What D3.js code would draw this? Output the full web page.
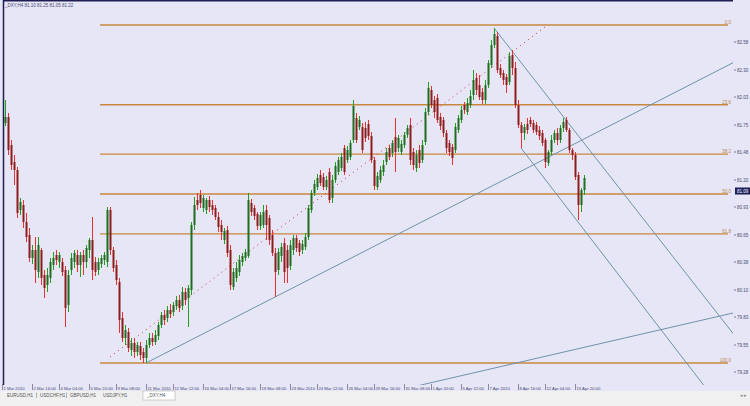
<!DOCTYPE html>
<html><head><meta charset="utf-8">
<script src="https://cdn.jsdelivr.net/npm/d3@7"></script>
<style>body{margin:0;background:#fff;overflow:hidden}svg{display:block}</style>
</head><body>
<svg id="chart" width="750" height="406"></svg>
<script>
// ---------------- data (H4 bars) ----------------
const open = [81.77,81.83,81.55,81.38,81.30,80.90,80.95,80.78,80.65,80.42,80.50,80.28,80.50,80.25,80.15,80.22,80.35,80.45,80.38,80.38,
80.30,79.95,80.30,80.38,80.45,80.35,80.45,80.38,80.50,80.60,80.38,80.30,80.36,80.40,80.38,80.90,80.50,80.35,80.18,79.82,
79.62,79.68,79.50,79.57,79.48,79.54,79.48,79.42,79.55,79.62,79.58,79.64,79.75,79.85,79.82,79.90,79.88,79.94,80.00,79.94,
80.08,80.02,80.10,80.75,81.00,81.05,80.92,80.90,81.00,80.95,80.92,80.83,80.75,80.60,80.70,80.50,80.13,80.22,80.28,80.38,
80.42,80.44,80.97,80.92,80.86,80.74,80.75,80.90,80.82,80.65,80.47,80.30,80.44,80.57,80.50,80.34,80.50,80.62,80.57,80.50,
80.53,80.63,80.90,81.07,81.13,81.25,81.23,81.13,81.28,81.02,81.20,81.28,81.32,81.52,81.40,81.43,81.60,81.82,81.73,81.73,
81.72,81.76,81.64,81.40,81.13,81.20,81.28,81.38,81.52,81.47,81.63,81.52,81.48,81.55,81.65,81.75,81.48,81.32,81.50,81.40,
81.58,81.88,82.10,82.00,82.02,81.83,81.80,81.67,81.57,81.53,81.50,81.70,81.80,81.95,81.88,81.95,82.05,82.22,82.15,82.08,
82.00,82.15,82.35,82.55,82.64,82.32,82.27,82.23,82.18,82.45,82.32,81.95,81.75,81.67,81.76,81.80,81.77,81.75,81.70,81.67,
81.60,81.37,81.48,81.60,81.67,81.60,81.72,81.80,81.70,81.50,81.45,81.25,80.95,81.10];
const high = [82.00,81.87,81.60,81.45,81.33,81.02,81.00,80.87,80.72,80.55,80.63,80.63,80.52,80.30,80.32,80.42,80.48,80.50,80.48,80.42,
80.34,80.30,80.47,80.50,80.50,80.48,80.50,80.55,80.62,80.83,80.43,80.42,80.45,80.48,80.93,80.93,80.53,80.40,80.22,79.88,
79.75,79.72,79.62,79.62,79.58,79.58,79.52,79.60,79.67,79.67,79.70,79.78,79.88,79.90,79.94,79.96,79.98,80.04,80.05,80.13,
80.12,80.15,80.78,81.03,81.07,81.10,81.05,81.02,81.04,81.00,80.95,80.88,80.80,80.72,80.74,80.55,80.32,80.38,80.45,80.47,
80.51,81.07,81.01,80.95,80.88,80.88,80.95,80.95,80.85,80.70,80.52,80.52,80.57,80.62,80.55,80.60,80.65,80.65,80.60,80.60,
80.67,80.95,81.10,81.20,81.26,81.30,81.27,81.24,81.32,81.25,81.38,81.43,81.47,81.55,81.54,81.60,82.00,81.87,81.84,81.77,
81.78,81.80,81.68,81.43,81.28,81.34,81.40,81.52,81.55,81.60,81.82,81.65,81.60,81.68,81.75,81.82,81.52,81.50,81.55,81.60,
81.92,82.18,82.14,82.04,82.06,81.87,81.83,81.70,81.60,81.56,81.77,81.85,81.94,81.98,82.02,82.10,82.30,82.27,82.25,82.12,
82.20,82.40,82.60,82.72,82.68,82.36,82.30,82.26,82.48,82.50,82.38,82.00,81.78,81.76,81.82,81.83,81.80,81.78,81.74,81.70,
81.62,81.50,81.65,81.70,81.72,81.75,81.82,81.83,81.72,81.52,81.48,81.28,81.12,81.25];
const low = [81.74,81.45,81.30,81.15,80.82,80.85,80.72,80.58,80.38,80.36,80.17,80.22,80.15,80.02,80.08,80.17,80.30,80.35,80.32,80.24,
79.73,79.88,80.25,80.32,80.28,80.23,80.25,80.32,80.42,80.20,80.24,80.25,80.32,80.35,80.33,80.45,80.28,80.15,79.67,79.58,
79.55,79.48,79.44,79.42,79.44,79.40,79.37,79.37,79.52,79.54,79.55,79.60,79.72,79.75,79.78,79.82,79.84,79.90,79.88,79.90,
79.95,79.73,80.05,80.70,80.90,80.92,80.88,80.86,80.88,80.85,80.80,80.68,80.60,80.56,80.43,80.10,80.10,80.18,80.24,80.34,
80.39,80.42,80.84,80.80,80.70,80.70,80.72,80.60,80.55,80.44,80.03,80.25,80.38,80.17,80.17,80.30,80.45,80.48,80.44,80.46,
80.50,80.60,80.87,81.04,81.10,81.14,81.10,81.10,80.97,80.97,81.17,81.25,81.29,81.25,81.37,81.40,81.57,81.57,81.70,81.47,
81.58,81.60,81.37,81.10,81.10,81.17,81.24,81.35,81.40,81.43,81.28,81.48,81.45,81.52,81.62,81.35,81.30,81.28,81.32,81.37,
81.55,81.85,81.92,81.82,81.77,81.70,81.63,81.47,81.44,81.35,81.47,81.67,81.77,81.86,81.85,81.92,82.00,82.05,82.00,81.96,
81.96,82.12,82.32,82.52,82.27,82.22,82.15,82.07,82.15,82.25,81.92,81.72,81.52,81.60,81.66,81.73,81.67,81.65,81.60,81.54,
81.32,81.34,81.45,81.57,81.55,81.57,81.68,81.68,81.47,81.40,81.20,80.80,80.88,81.05];
const close = [81.83,81.50,81.35,81.30,80.87,80.98,80.78,80.63,80.42,80.50,80.30,80.55,80.22,80.12,80.25,80.38,80.42,80.40,80.45,80.28,
79.92,80.25,80.42,80.47,80.35,80.45,80.38,80.52,80.60,80.30,80.28,80.38,80.42,80.45,80.90,80.50,80.32,80.20,79.80,79.62,
79.70,79.52,79.57,79.48,79.55,79.45,79.42,79.55,79.62,79.58,79.65,79.75,79.85,79.80,79.90,79.86,79.95,80.00,79.92,80.08,
80.00,80.12,80.75,80.95,80.95,80.97,81.02,81.00,80.93,80.90,80.83,80.73,80.68,80.69,80.47,80.15,80.28,80.32,80.40,80.44,
80.48,81.00,80.88,80.84,80.74,80.85,80.88,80.75,80.60,80.47,80.28,80.48,80.53,80.28,80.32,80.55,80.62,80.52,80.48,80.56,
80.63,80.92,81.07,81.16,81.22,81.17,81.13,81.20,81.00,81.20,81.34,81.40,81.43,81.28,81.50,81.57,81.94,81.60,81.80,81.50,
81.62,81.64,81.40,81.14,81.24,81.30,81.35,81.48,81.43,81.57,81.48,81.62,81.56,81.65,81.72,81.40,81.35,81.45,81.37,81.55,
81.88,82.12,81.95,81.88,81.80,81.74,81.67,81.52,81.48,81.42,81.73,81.82,81.90,81.90,81.97,82.04,82.20,82.10,82.03,82.00,
82.15,82.37,82.55,82.66,82.30,82.25,82.20,82.15,82.44,82.32,81.95,81.75,81.67,81.73,81.70,81.76,81.70,81.68,81.64,81.57,
81.38,81.48,81.60,81.67,81.60,81.72,81.78,81.70,81.50,81.45,81.23,80.95,81.10,81.22];
const bid = 81.09;

const priceTicks = [82.58,82.30,82.03,81.75,81.48,81.20,80.93,80.65,80.38,80.10,79.83,79.55,79.28];

const timeTickIndex = [0,10,19,29,38,48,57,67,76,86,96,105,115,124,134,143,153,162,172,181,191];
const timeTickLabels = ["1 Mar 2010","2 Mar 16:00","4 Mar 04:00","5 Mar 20:00","9 Mar 08:00","11 Mar 2010","12 Mar 12:00",
"16 Mar 04:00","17 Mar 16:00","19 Mar 08:00","23 Mar 2010","24 Mar 12:00","26 Mar 04:00","29 Mar 16:00","31 Mar 08:00",
"1 Apr 20:00","5 Apr 12:00","7 Apr 2010","8 Apr 16:00","12 Apr 04:00","13 Apr 20:00"];

const fibHigh = 82.75, fibLow = 79.37, fibStartIndex = 31.7;
const fibRatios = [0, 0.236, 0.382, 0.5, 0.618, 1];
const fibLabels = ["0.0","23.6","38.2","50.0","61.8","100.0"];

// trend lines: two anchors (bar index, price), drawn as rays to the right
const trendI1 = [47, 163, 172, 130];
const trendP1 = [79.37, 82.72, 81.52, 79.09];
const trendI2 = [163, 187, 191, 242.67];
const trendP2 = [81.15, 81.80, 80.78, 79.87];
// dotted segment
const dotI = [35, 180];
const dotP = [79.43, 82.73];

const symbol = "_DXY,H4";
const tabs = ["EURUSD,H1","USDCHF,H1","GBPUSD,H1","USDJPY,H1","_DXY,H4"];

// ---------------- drawing ----------------
const W = 750, H = 406;
const plot = {left: 3, top: 0, right: 733, bottom: 385};
const svg = d3.select("#chart");
const font = "'Liberation Sans', Arial, sans-serif";
const txt = "#4A4A72";

const x = d3.scaleLinear().domain([0, 1]).range([5, 8]);
const y = d3.scaleLinear().domain([83, 79]).range([0, 400]);

svg.append("rect").attr("width", W).attr("height", H).attr("fill", "#E6E6F6");

svg.append("defs").append("clipPath").attr("id", "pc")
  .append("rect").attr("x", plot.left).attr("y", plot.top)
  .attr("width", plot.right - plot.left).attr("height", plot.bottom - plot.top);

const g = svg.append("g").attr("clip-path", "url(#pc)");

// Fibonacci levels
const fibLevels = fibRatios.map(r => fibHigh - (fibHigh - fibLow) * r);
g.selectAll("line.fib").data(fibLevels).join("line")
  .attr("x1", x(fibStartIndex)).attr("x2", 728)
  .attr("y1", d => y(d)).attr("y2", d => y(d))
  .attr("stroke", "#C8883E").attr("stroke-width", 1.3);
svg.selectAll("text.fib").data(fibLevels).join("text")
  .attr("x", 731).attr("y", d => y(d) - 0.8)
  .attr("text-anchor", "end").attr("font-family", font).attr("font-size", 4.5)
  .attr("fill", "#B88448").text((d, i) => fibLabels[i]);

// trend rays
const iEnd = x.invert(plot.right + 5);
trendI1.forEach((i1, k) => {
  const slope = (trendP2[k] - trendP1[k]) / (trendI2[k] - i1);
  const pEnd = trendP1[k] + slope * (iEnd - i1);
  g.append("line")
    .attr("x1", x(i1)).attr("y1", y(trendP1[k]))
    .attr("x2", x(iEnd)).attr("y2", y(pEnd))
    .attr("stroke", "#6F93A9").attr("stroke-width", 1);
});

// dotted line
g.append("line")
  .attr("x1", x(dotI[0])).attr("y1", y(dotP[0]))
  .attr("x2", x(dotI[1])).attr("y2", y(dotP[1]))
  .attr("stroke", "#D03030").attr("stroke-width", 1)
  .attr("stroke-dasharray", "1,4");

// candles
const idx = d3.range(open.length);
const bull = i => close[i] >= open[i];
g.selectAll("line.wick").data(idx).join("line")
  .attr("x1", i => Math.round(x(i)) + 0.5).attr("x2", i => Math.round(x(i)) + 0.5)
  .attr("y1", i => y(high[i])).attr("y2", i => y(low[i]))
  .attr("stroke", i => bull(i) ? "#1FA01F" : "#E83232").attr("stroke-width", 1);
g.selectAll("rect.body").data(idx).join("rect")
  .attr("x", i => Math.round(x(i)) - 0.5).attr("width", 2)
  .attr("y", i => y(Math.max(open[i], close[i])))
  .attr("height", i => Math.max(1, Math.abs(y(open[i]) - y(close[i]))))
  .attr("fill", i => bull(i) ? "#1E6E1E" : "#8E1C1C");

// borders
svg.append("line").attr("x1", plot.left).attr("x2", plot.right).attr("y1", 0.75).attr("y2", 0.75)
  .attr("stroke", "#1E1E52").attr("stroke-width", 1.5);
svg.append("line").attr("x1", 3.5).attr("x2", 3.5).attr("y1", 0).attr("y2", plot.bottom)
  .attr("stroke", "#1E1E52").attr("stroke-width", 1.5);

// price axis
const pa = svg.append("g");
priceTicks.forEach(p => {
  pa.append("line").attr("x1", 734).attr("x2", 736).attr("y1", y(p)).attr("y2", y(p))
    .attr("stroke", txt).attr("stroke-width", 0.7);
  pa.append("text").attr("x", 737).attr("y", y(p) + 1.6)
    .attr("font-family", font).attr("font-size", 4.5).attr("fill", txt).text(p.toFixed(2));
});
pa.append("rect").attr("x", 735).attr("y", y(bid) - 3.5).attr("width", 15).attr("height", 7).attr("fill", "#1E1E5A");
pa.append("text").attr("x", 737).attr("y", y(bid) + 1.6)
  .attr("font-family", font).attr("font-size", 4.5).attr("fill", "#FFFFFF").text(bid.toFixed(2));

// time axis
const ta = svg.append("g");
timeTickIndex.forEach((ti, k) => {
  const tx = Math.round(x(ti)) - 3;
  ta.append("line").attr("x1", tx + 0.5).attr("x2", tx + 0.5).attr("y1", 384).attr("y2", 390)
    .attr("stroke", txt).attr("stroke-width", 0.6);
  ta.append("text").attr("x", tx + 1.5).attr("y", 389.5)
    .attr("font-family", font).attr("font-size", 4.2).attr("fill", txt).text(timeTickLabels[k]);
});

// header
const n = open.length - 1;
svg.append("text").attr("x", 5).attr("y", 7).attr("font-family", font).attr("font-size", 4.5)
  .attr("fill", txt)
  .text(symbol + "  " + [open[n], high[n], low[n], close[n]].map(v => v.toFixed(2)).join(" "));

// tab bar
svg.append("rect").attr("x", 0).attr("y", 391).attr("width", W).attr("height", 15).attr("fill", "#F0F0F0");
const tabX = [7, 40, 70, 103, 147];
tabs.forEach((t, k) => {
  if (k === tabs.length - 1) {
    svg.append("rect").attr("x", tabX[k] - 4).attr("y", 391).attr("width", 32).attr("height", 9)
      .attr("fill", "#FFFFFF").attr("stroke", "#B0B0B0").attr("stroke-width", 0.6);
  }
  svg.append("text").attr("x", tabX[k]).attr("y", 397).attr("font-family", font).attr("font-size", 4.5)
    .attr("fill", "#555").text(t);
  if (k < 2) {
    svg.append("line").attr("x1", tabX[k + 1] - 3.5).attr("x2", tabX[k + 1] - 3.5).attr("y1", 392.5).attr("y2", 398)
      .attr("stroke", "#888").attr("stroke-width", 0.6);
  }
});
svg.append("text").attr("x", 740).attr("y", 397).attr("font-family", font).attr("font-size", 4.5)
  .attr("fill", "#888").text("◂ ▸");
</script>
</body></html>
